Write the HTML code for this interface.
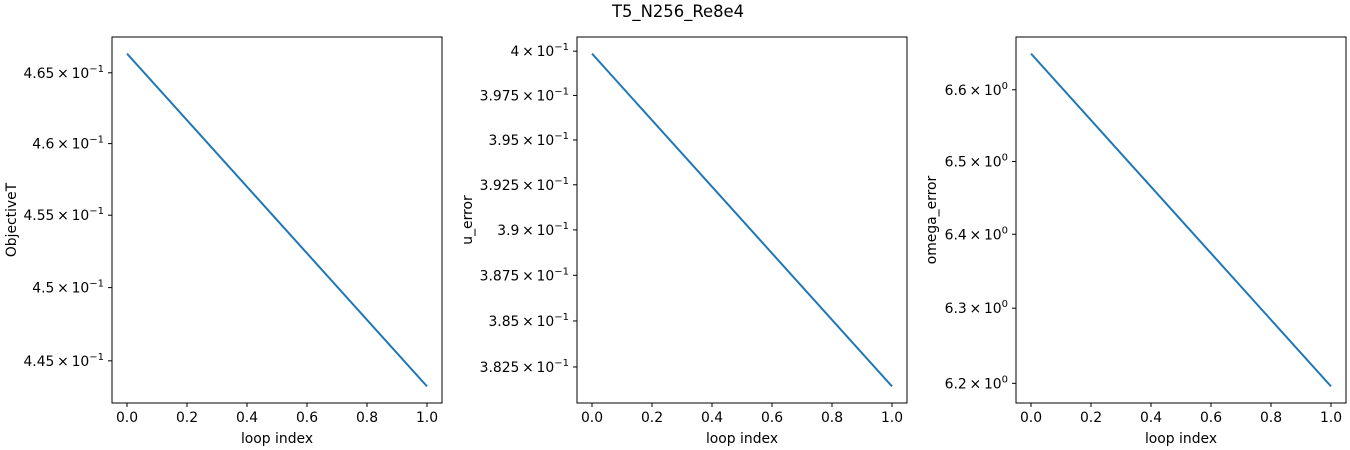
<!DOCTYPE html>
<html><head><meta charset="utf-8"><style>
body{margin:0;background:#fff}
svg{display:block;font-family:"DejaVu Sans","Liberation Sans",sans-serif}
</style></head><body>
<svg id="fig" width="1350" height="450">
<text x="678" y="17" font-size="16.4" text-anchor="middle">T5_N256_Re8e4</text>
</svg>
<script>
const loopIndex = [0, 1];
const objectiveT = [0.46636, 0.44327];
const uError = [0.39986, 0.38145];
const omegaError = [6.651, 6.196];
const xTicks = [0, 0.2, 0.4, 0.6, 0.8, 1.0];
const objTicks = [0.465, 0.46, 0.455, 0.45, 0.445];
const objTickLabels = ["4.65", "4.6", "4.55", "4.5", "4.45"];
const uTicks = [0.4, 0.3975, 0.395, 0.3925, 0.39, 0.3875, 0.385, 0.3825];
const uTickLabels = ["4", "3.975", "3.95", "3.925", "3.9", "3.875", "3.85", "3.825"];
const omTicks = [6.6, 6.5, 6.4, 6.3, 6.2];
const omTickLabels = ["6.6", "6.5", "6.4", "6.3", "6.2"];

const NS = "http://www.w3.org/2000/svg";
const svg = document.getElementById("fig");
function mk(tag, attrs, parent) {
  const e = document.createElementNS(NS, tag);
  for (const k in attrs) e.setAttribute(k, attrs[k]);
  (parent || svg).appendChild(e);
  return e;
}
const TOP = 37, BOT = 403;
function panel(key, left, right, ys, ticks, labels, exp, ylabel, ylabelX) {
  const g = mk("g", {});
  
  
  const xmin = -0.05, xmax = 1.05;
  const sx = v => left + (v - xmin) / (xmax - xmin) * (right - left);
  const lmin = Math.log(Math.min(...ys)), lmax = Math.log(Math.max(...ys));
  const lr = lmax - lmin;
  const y0 = lmin - 0.05 * lr, y1 = lmax + 0.05 * lr;
  const sy = v => BOT - (Math.log(v) - y0) / (y1 - y0) * (BOT - TOP);
  xTicks.forEach(t => {
    const x = sx(t);
    const tk = mk("line", {x1:x, x2:x, y1:BOT, y2:BOT+4, stroke:"#000", "stroke-width":1}, g);
    
    
    const lb = mk("text", {x:x, y:BOT+19, "font-size":13.9, "text-anchor":"middle"}, g);
    lb.textContent = t.toFixed(1);
    
    
  });
  ticks.forEach((t, i) => {
    const y = sy(t);
    const tk = mk("line", {x1:left-4, x2:left, y1:y, y2:y, stroke:"#000", "stroke-width":1}, g);
    
    
    const lb = mk("text", {x:left-8, y:y+5, "font-size":13.9, "text-anchor":"end"}, g);
    
    
    const a = mk("tspan", {}, lb); a.textContent = labels[i] + "\u2009\u00d7\u200910";
    const b = mk("tspan", {dy:-6, "font-size":10}, lb); b.textContent = exp;
  });
  const pts = loopIndex.map((v, i) => sx(v) + "," + sy(ys[i])).join(" ");
  const ln = mk("polyline", {points:pts, fill:"none", stroke:"#1f77b4", "stroke-width":2}, g);
  
  
  const fr = mk("rect", {x:left, y:TOP, width:right-left, height:BOT-TOP, fill:"none", stroke:"#000", "stroke-width":1}, g);
  
  
  const xl = mk("text", {x:(left+right)/2, y:443, "font-size":13.9, "text-anchor":"middle"}, g);
  xl.textContent = "loop index";
  
  
  const yc = (TOP+BOT)/2;
  const yl = mk("text", {x:ylabelX, y:yc, "font-size":13.9, "text-anchor":"middle", transform:"rotate(-90 "+ylabelX+" "+yc+")"}, g);
  yl.textContent = ylabel;
  
  
}
panel("objective", 112, 442, objectiveT, objTicks, objTickLabels, "\u22121", "ObjectiveT", 16);
panel("u-error", 577, 907, uError, uTicks, uTickLabels, "\u22121", "u_error", 472);
panel("omega-error", 1016, 1346, omegaError, omTicks, omTickLabels, "0", "omega_error", 936);
</script>
</body></html>
